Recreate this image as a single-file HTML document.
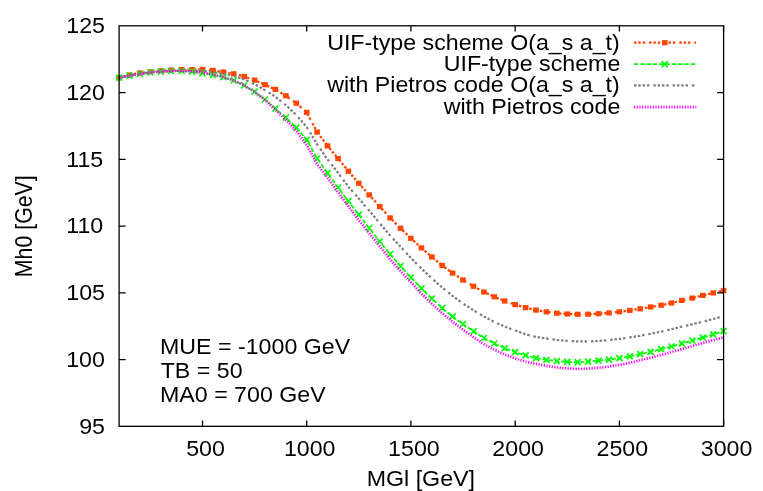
<!DOCTYPE html>
<html><head><meta charset="utf-8"><title>plot</title><style>html,body{margin:0;padding:0;background:#fff}body{width:763px;height:491px;overflow:hidden;font-family:"Liberation Sans",sans-serif}</style></head><body>
<svg width="763" height="491" viewBox="0 0 763 491" style="display:block;will-change:transform">
<rect width="763" height="491" fill="#fff"/>
<g font-family="Liberation Sans, sans-serif" font-size="22.4" fill="#000">
<text transform="translate(79.17,433.70) scale(1.0357,1)">95</text>
<text transform="translate(66.20,366.95) scale(1.0357,1)">100</text>
<text transform="translate(66.27,300.20) scale(1.0357,1)">105</text>
<text transform="translate(66.20,233.45) scale(1.0357,1)">110</text>
<text transform="translate(66.27,166.70) scale(1.0357,1)">115</text>
<text transform="translate(66.20,99.95) scale(1.0357,1)">120</text>
<text transform="translate(66.27,33.20) scale(1.0357,1)">125</text>
<text transform="translate(186.13,455.60) scale(1.0357,1)">500</text>
<text transform="translate(283.90,455.60) scale(1.0357,1)">1000</text>
<text transform="translate(388.12,455.60) scale(1.0357,1)">1500</text>
<text transform="translate(492.35,455.60) scale(1.0357,1)">2000</text>
<text transform="translate(596.57,455.60) scale(1.0357,1)">2500</text>
<text transform="translate(700.79,455.60) scale(1.0357,1)">3000</text>
<text transform="translate(366.70,486.40) scale(1.0357,1)">MGl [GeV]</text>
<text transform="translate(31.6,275.4) rotate(-90) scale(0.9522,1.0357)" x="-1.84">Mh0 [GeV]</text>
<text transform="translate(327.17,49.60) scale(1.0357,1)">UIF-type scheme O(a_s a_t)</text>
<text transform="translate(443.70,70.80) scale(1.0357,1)">UIF-type scheme</text>
<text transform="translate(327.13,92.20) scale(1.0357,1)">with Pietros code O(a_s a_t)</text>
<text transform="translate(443.67,113.50) scale(1.0357,1)">with Pietros code</text>
<text transform="translate(160.00,353.70) scale(1.0357,1)">MUE = -1000 GeV</text>
<text transform="translate(160.68,377.60) scale(1.0357,1)">TB = 50</text>
<text transform="translate(160.00,401.50) scale(1.0357,1)">MA0 = 700 GeV</text>
</g>
<polyline points="119.1,77.7 129.5,75.0 139.9,73.0 150.4,71.8 160.8,70.8 171.2,70.0 181.6,69.6 192.1,69.6 202.5,69.4 212.9,70.4 223.3,72.0 233.7,73.8 244.2,76.5 254.6,80.1 265.0,84.7 275.4,89.4 285.9,95.8 296.3,103.2 306.7,112.4 317.1,132.1 327.5,145.9 338.0,158.5 348.4,171.2 358.8,183.3 369.2,194.9 379.7,206.5 390.1,217.9 400.5,228.3 410.9,238.3 421.4,247.9 431.8,256.9 442.2,265.5 452.6,273.1 463.0,280.0 473.5,286.3 483.9,292.0 494.3,296.8 504.7,301.0 515.2,304.6 525.6,307.6 536.0,310.1 546.4,311.9 556.8,313.2 567.3,314.0 577.7,314.3 588.1,314.2 598.5,313.7 609.0,312.9 619.4,311.8 629.8,310.4 640.2,308.8 650.6,307.0 661.1,305.2 671.5,303.0 681.9,300.4 692.3,298.1 702.8,295.4 713.2,292.9 723.6,290.5" fill="none" stroke="#ff4500" stroke-width="2.3" stroke-dasharray="2.5 1.8 2.5 1.8 2.5 4"/>
<g fill="#ff4500"><rect x="116.3" y="75.1" width="5.6" height="5.2"/><rect x="126.7" y="72.4" width="5.6" height="5.2"/><rect x="137.1" y="70.4" width="5.6" height="5.2"/><rect x="147.6" y="69.2" width="5.6" height="5.2"/><rect x="158.0" y="68.2" width="5.6" height="5.2"/><rect x="168.4" y="67.4" width="5.6" height="5.2"/><rect x="178.8" y="67.0" width="5.6" height="5.2"/><rect x="189.3" y="67.0" width="5.6" height="5.2"/><rect x="199.7" y="66.8" width="5.6" height="5.2"/><rect x="210.1" y="67.8" width="5.6" height="5.2"/><rect x="220.5" y="69.4" width="5.6" height="5.2"/><rect x="230.9" y="71.2" width="5.6" height="5.2"/><rect x="241.4" y="73.9" width="5.6" height="5.2"/><rect x="251.8" y="77.5" width="5.6" height="5.2"/><rect x="262.2" y="82.1" width="5.6" height="5.2"/><rect x="272.6" y="86.8" width="5.6" height="5.2"/><rect x="283.1" y="93.2" width="5.6" height="5.2"/><rect x="293.5" y="100.6" width="5.6" height="5.2"/><rect x="303.9" y="109.8" width="5.6" height="5.2"/><rect x="314.3" y="129.5" width="5.6" height="5.2"/><rect x="324.7" y="143.3" width="5.6" height="5.2"/><rect x="335.2" y="155.9" width="5.6" height="5.2"/><rect x="345.6" y="168.6" width="5.6" height="5.2"/><rect x="356.0" y="180.7" width="5.6" height="5.2"/><rect x="366.4" y="192.3" width="5.6" height="5.2"/><rect x="376.9" y="203.9" width="5.6" height="5.2"/><rect x="387.3" y="215.3" width="5.6" height="5.2"/><rect x="397.7" y="225.7" width="5.6" height="5.2"/><rect x="408.1" y="235.7" width="5.6" height="5.2"/><rect x="418.6" y="245.3" width="5.6" height="5.2"/><rect x="429.0" y="254.3" width="5.6" height="5.2"/><rect x="439.4" y="262.9" width="5.6" height="5.2"/><rect x="449.8" y="270.5" width="5.6" height="5.2"/><rect x="460.2" y="277.4" width="5.6" height="5.2"/><rect x="470.7" y="283.7" width="5.6" height="5.2"/><rect x="481.1" y="289.4" width="5.6" height="5.2"/><rect x="491.5" y="294.2" width="5.6" height="5.2"/><rect x="501.9" y="298.4" width="5.6" height="5.2"/><rect x="512.4" y="302.0" width="5.6" height="5.2"/><rect x="522.8" y="305.0" width="5.6" height="5.2"/><rect x="533.2" y="307.5" width="5.6" height="5.2"/><rect x="543.6" y="309.3" width="5.6" height="5.2"/><rect x="554.0" y="310.6" width="5.6" height="5.2"/><rect x="564.5" y="311.4" width="5.6" height="5.2"/><rect x="574.9" y="311.7" width="5.6" height="5.2"/><rect x="585.3" y="311.6" width="5.6" height="5.2"/><rect x="595.7" y="311.1" width="5.6" height="5.2"/><rect x="606.2" y="310.3" width="5.6" height="5.2"/><rect x="616.6" y="309.2" width="5.6" height="5.2"/><rect x="627.0" y="307.8" width="5.6" height="5.2"/><rect x="637.4" y="306.2" width="5.6" height="5.2"/><rect x="647.8" y="304.4" width="5.6" height="5.2"/><rect x="658.3" y="302.6" width="5.6" height="5.2"/><rect x="668.7" y="300.4" width="5.6" height="5.2"/><rect x="679.1" y="297.8" width="5.6" height="5.2"/><rect x="689.5" y="295.5" width="5.6" height="5.2"/><rect x="700.0" y="292.8" width="5.6" height="5.2"/><rect x="710.4" y="290.3" width="5.6" height="5.2"/><rect x="720.8" y="287.9" width="5.6" height="5.2"/></g>
<path d="M634 42.7H696" stroke="#ff4500" stroke-width="2.3" stroke-dasharray="2.5 1.8 2.5 1.8 2.5 4"/><g fill="#ff4500"><rect x="662.0" y="40.1" width="5.6" height="5.2"/></g>
<polyline points="119.1,77.7 129.5,75.6 139.9,74.0 150.4,72.4 160.8,71.7 171.2,71.0 181.6,71.0 192.1,71.7 202.5,73.1 212.9,74.9 223.3,77.2 233.7,80.4 244.2,85.4 254.6,91.7 265.0,99.5 275.4,108.7 285.9,117.7 296.3,127.7 306.7,139.9 317.1,158.5 327.5,172.9 338.0,187.5 348.4,201.2 358.8,214.7 369.2,228.2 379.7,241.5 390.1,254.2 400.5,266.1 410.9,277.5 421.4,288.3 431.8,298.7 442.2,308.1 452.6,316.6 463.0,324.2 473.5,331.3 483.9,338.0 494.3,343.5 504.7,348.2 515.2,352.1 525.6,355.3 536.0,358.1 546.4,359.8 556.8,361.1 567.3,361.9 577.7,362.2 588.1,361.6 598.5,360.7 609.0,359.6 619.4,358.2 629.8,356.3 640.2,354.1 650.6,351.8 661.1,349.2 671.5,346.5 681.9,343.7 692.3,340.6 702.8,337.6 713.2,334.4 723.6,331.2" fill="none" stroke="#00ff00" stroke-width="1.8" stroke-dasharray="4.3 2"/>
<path d="M116.1 74.7l6 6M116.1 80.7l6 -6M126.5 72.6l6 6M126.5 78.6l6 -6M136.9 71.0l6 6M136.9 77.0l6 -6M147.4 69.4l6 6M147.4 75.4l6 -6M157.8 68.7l6 6M157.8 74.7l6 -6M168.2 68.0l6 6M168.2 74.0l6 -6M178.6 68.0l6 6M178.6 74.0l6 -6M189.1 68.7l6 6M189.1 74.7l6 -6M199.5 70.1l6 6M199.5 76.1l6 -6M209.9 71.9l6 6M209.9 77.9l6 -6M220.3 74.2l6 6M220.3 80.2l6 -6M230.7 77.4l6 6M230.7 83.4l6 -6M241.2 82.4l6 6M241.2 88.4l6 -6M251.6 88.7l6 6M251.6 94.7l6 -6M262.0 96.5l6 6M262.0 102.5l6 -6M272.4 105.7l6 6M272.4 111.7l6 -6M282.9 114.7l6 6M282.9 120.7l6 -6M293.3 124.7l6 6M293.3 130.7l6 -6M303.7 136.9l6 6M303.7 142.9l6 -6M314.1 155.5l6 6M314.1 161.5l6 -6M324.5 169.9l6 6M324.5 175.9l6 -6M335.0 184.5l6 6M335.0 190.5l6 -6M345.4 198.2l6 6M345.4 204.2l6 -6M355.8 211.7l6 6M355.8 217.7l6 -6M366.2 225.2l6 6M366.2 231.2l6 -6M376.7 238.5l6 6M376.7 244.5l6 -6M387.1 251.2l6 6M387.1 257.2l6 -6M397.5 263.1l6 6M397.5 269.1l6 -6M407.9 274.5l6 6M407.9 280.5l6 -6M418.4 285.3l6 6M418.4 291.3l6 -6M428.8 295.7l6 6M428.8 301.7l6 -6M439.2 305.1l6 6M439.2 311.1l6 -6M449.6 313.6l6 6M449.6 319.6l6 -6M460.0 321.2l6 6M460.0 327.2l6 -6M470.5 328.3l6 6M470.5 334.3l6 -6M480.9 335.0l6 6M480.9 341.0l6 -6M491.3 340.5l6 6M491.3 346.5l6 -6M501.7 345.2l6 6M501.7 351.2l6 -6M512.2 349.1l6 6M512.2 355.1l6 -6M522.6 352.3l6 6M522.6 358.3l6 -6M533.0 355.1l6 6M533.0 361.1l6 -6M543.4 356.8l6 6M543.4 362.8l6 -6M553.8 358.1l6 6M553.8 364.1l6 -6M564.3 358.9l6 6M564.3 364.9l6 -6M574.7 359.2l6 6M574.7 365.2l6 -6M585.1 358.6l6 6M585.1 364.6l6 -6M595.5 357.7l6 6M595.5 363.7l6 -6M606.0 356.6l6 6M606.0 362.6l6 -6M616.4 355.2l6 6M616.4 361.2l6 -6M626.8 353.3l6 6M626.8 359.3l6 -6M637.2 351.1l6 6M637.2 357.1l6 -6M647.6 348.8l6 6M647.6 354.8l6 -6M658.1 346.2l6 6M658.1 352.2l6 -6M668.5 343.5l6 6M668.5 349.5l6 -6M678.9 340.7l6 6M678.9 346.7l6 -6M689.3 337.6l6 6M689.3 343.6l6 -6M699.8 334.6l6 6M699.8 340.6l6 -6M710.2 331.4l6 6M710.2 337.4l6 -6M720.6 328.2l6 6M720.6 334.2l6 -6" stroke="#00ff00" stroke-width="1.7" fill="none"/>
<path d="M634 64.1H696" stroke="#00ff00" stroke-width="1.8" stroke-dasharray="4.3 2"/><path d="M661.8 61.1l6 6M661.8 67.1l6 -6" stroke="#00ff00" stroke-width="1.7"/>
<polyline points="119.1,77.7 129.5,75.6 139.9,74.0 150.4,72.4 160.8,71.7 171.2,71.0 181.6,70.9 192.1,70.9 202.5,70.8 212.9,71.9 223.3,73.9 233.7,75.9 244.2,79.4 254.6,84.0 265.0,90.2 275.4,96.8 285.9,105.2 296.3,115.0 306.7,127.0 317.1,144.3 327.5,159.3 338.0,172.8 348.4,186.7 358.8,198.5 369.2,210.6 379.7,223.2 390.1,235.5 400.5,246.7 410.9,257.9 421.4,268.5 431.8,278.4 442.2,287.5 452.6,295.9 463.0,303.6 473.5,310.2 483.9,316.5 494.3,322.0 504.7,326.7 515.2,330.5 525.6,334.3 536.0,336.9 546.4,338.5 556.8,339.9 567.3,340.9 577.7,341.4 588.1,341.5 598.5,341.0 609.0,340.1 619.4,338.9 629.8,337.4 640.2,335.8 650.6,333.8 661.1,331.6 671.5,329.2 681.9,326.7 692.3,324.3 702.8,321.7 713.2,319.0 723.6,316.3" fill="none" stroke="#808080" stroke-width="2.3" stroke-dasharray="2.5 1.8 2.5 1.8 2.5 1.8 2.5 3.9"/>
<path d="M634 85.4H696" stroke="#808080" stroke-width="2.3" stroke-dasharray="2.5 1.8 2.5 1.8 2.5 1.8 2.5 3.9"/>
<polyline points="119.1,77.7 129.5,75.6 139.9,74.0 150.4,72.4 160.8,71.7 171.2,71.0 181.6,70.9 192.1,71.5 202.5,72.6 212.9,74.6 223.3,77.0 233.7,80.4 244.2,85.3 254.6,91.9 265.0,100.1 275.4,109.8 285.9,119.8 296.3,130.8 306.7,145.1 317.1,164.0 327.5,177.8 338.0,192.2 348.4,206.4 358.8,220.1 369.2,233.2 379.7,246.2 390.1,259.2 400.5,270.8 410.9,282.3 421.4,293.5 431.8,303.7 442.2,313.2 452.6,321.8 463.0,329.7 473.5,337.2 483.9,344.2 494.3,349.7 504.7,354.5 515.2,358.4 525.6,361.5 536.0,363.9 546.4,365.9 556.8,367.3 567.3,368.6 577.7,368.9 588.1,368.6 598.5,367.8 609.0,366.5 619.4,364.8 629.8,362.9 640.2,360.2 650.6,357.7 661.1,355.0 671.5,352.1 681.9,349.1 692.3,346.0 702.8,343.0 713.2,340.1 723.6,337.3" fill="none" stroke="#ff00ff" stroke-width="2.7" stroke-dasharray="1.2 1.47"/>
<path d="M634 107.1H696.3" stroke="#ff00ff" stroke-width="2.7" stroke-dasharray="1.2 1.47"/>
<g stroke="#000" stroke-width="1.3" fill="none">
<rect x="119.1" y="25.8" width="604.5" height="400.5"/>
<path d="M119.1 359.6h6.5M723.6 359.6h-6.5"/>
<path d="M119.1 292.8h6.5M723.6 292.8h-6.5"/>
<path d="M119.1 226.1h6.5M723.6 226.1h-6.5"/>
<path d="M119.1 159.3h6.5M723.6 159.3h-6.5"/>
<path d="M119.1 92.6h6.5M723.6 92.6h-6.5"/>
<path d="M202.5 426.3v-5.8M202.5 25.8v5.8"/>
<path d="M306.7 426.3v-5.8M306.7 25.8v5.8"/>
<path d="M410.9 426.3v-5.8M410.9 25.8v5.8"/>
<path d="M515.2 426.3v-5.8M515.2 25.8v5.8"/>
<path d="M619.4 426.3v-5.8M619.4 25.8v5.8"/>
<path d="M723.6 426.3v-5.8M723.6 25.8v5.8"/>
</g>
</svg>
</body></html>
